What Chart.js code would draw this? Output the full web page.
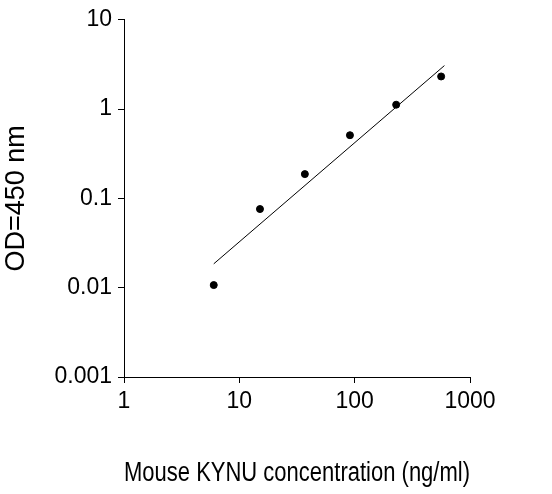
<!DOCTYPE html>
<html><head><meta charset="utf-8">
<script src="https://cdn.jsdelivr.net/npm/chart.js@4"></script>
<style>html,body{margin:0;padding:0;background:#fff}#w{width:552px;height:494px}</style>
</head><body><div id="w"><canvas id="c"></canvas></div>
<script>
const concX = [6.0, 15.1, 37, 91, 229, 562];
const odY = [0.0107, 0.076, 0.187, 0.51, 1.12, 2.32];
const fitX = [6.0, 600];
const fitY = [0.0185, 3.07];
const xTicks = [1, 10, 100, 1000];
const yTicks = [0.001, 0.01, 0.1, 1, 10];
const xTitle = 'Mouse KYNU concentration (ng/ml)';
const yTitle = 'OD=450 nm';

const F = 'Arial, "Liberation Sans", sans-serif';
new Chart(document.getElementById('c'), {
  type: 'scatter',
  data: { datasets: [
    { data: concX.map((x,i)=>({x, y: odY[i]})), backgroundColor:'#000', borderColor:'#000', pointRadius:3.5 },
    { type:'line', data: fitX.map((x,i)=>({x, y: fitY[i]})), borderColor:'#000', borderWidth:1, pointRadius:0, fill:false }
  ]},
  options: {
    responsive:true, maintainAspectRatio:false, animation:false,
    layout:{ padding:{ top:0, right:82, left:0, bottom:0 } },
    plugins:{ legend:{display:false}, tooltip:{enabled:false} },
    scales:{
      x:{ type:'logarithmic', min:1, max:1000,
        afterBuildTicks: s => { s.ticks = xTicks.map(v=>({value:v})); },
        afterFit: s => { s.height = 117; },
        ticks:{ color:'#000', font:{family:F,size:23}, padding:5, maxRotation:0, callback: v => String(v) },
        grid:{ drawOnChartArea:false, drawTicks:true, tickLength:6, color:'#000' },
        border:{ color:'#000', width:1 },
        title:{ display:true, text:xTitle, color:'#000', font:{family:F,size:27}, padding:{top:26} }
      },
      y:{ type:'logarithmic', min:0.001, max:10,
        afterBuildTicks: s => { s.ticks = yTicks.map(v=>({value:v})); },
        afterFit: s => { s.width = 124; },
        ticks:{ color:'#000', font:{family:F,size:23}, padding:6, callback: v => String(v) },
        grid:{ drawOnChartArea:false, drawTicks:true, tickLength:6, color:'#000' },
        border:{ color:'#000', width:1 },
        title:{ display:true, text:yTitle, color:'#000', font:{family:F,size:27}, padding:{top:0,bottom:0} }
      }
    }
  }
});
</script></body></html>
